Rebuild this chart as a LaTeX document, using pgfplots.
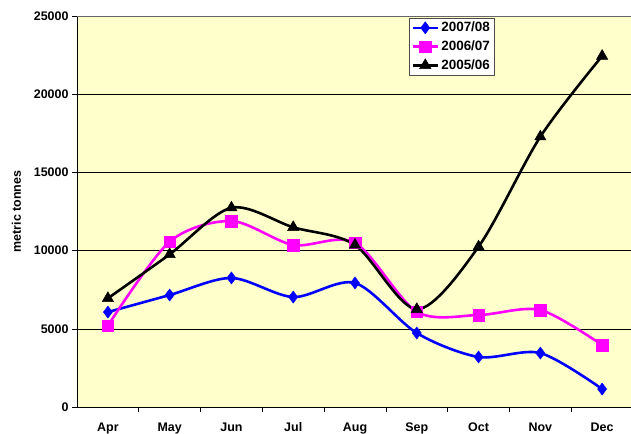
\documentclass[border=0pt]{standalone}
\usepackage{fontspec}
\setmainfont{Liberation Sans}
\usepackage{pgfplots}
\pgfplotsset{compat=1.18}
\usetikzlibrary{calc}
\definecolor{bgy}{HTML}{FFFFCC}
\definecolor{mag}{HTML}{FF00FF}
\definecolor{blu}{HTML}{0000FF}
\begin{document}
\begin{tikzpicture}
\begin{axis}[
  scale only axis,
  width=556bp, height=391bp,
  xmin=-0.5, xmax=8.5,
  ymin=0, ymax=25000,
  axis background/.style={fill=bgy},
  xtick={0,...,8},
  xticklabels={Apr,May,Jun,Jul,Aug,Sep,Oct,Nov,Dec},
  minor xtick={0.5,1.5,...,7.5},
  major x tick style={draw=none},
  minor tick length=5bp,
  ytick={0,5000,...,25000},
  major tick length=5bp,
  tick align=outside,
  x tick label style={yshift=-7bp},
  xtick pos=bottom, ytick pos=left,
  ymajorgrids,
  grid style={black, line width=0.6pt},
  tick style={black, line width=0.6pt},
  axis line style={black, line width=0.8pt},
  axis x line*=bottom, axis y line*=left,
  scaled y ticks=false,
  /pgf/number format/1000 sep={},
  /pgf/number format/assume math mode=true,
  tick label style={font=\fontsize{12.5}{14}\selectfont\bfseries},
  ylabel={metric tonnes},
  ylabel style={font=\fontsize{12.5}{14}\selectfont\bfseries, yshift=6bp},
  legend style={at={(0.597,0.995)}, anchor=north west, draw=black!70, line width=0.6pt,
    font=\fontsize{13.5}{15}\selectfont\bfseries, inner sep=2pt, row sep=3.5bp,
    legend cell align=left, fill=white},
  legend image code/.code={
    \draw[mark repeat=2,mark phase=2] plot coordinates {(0cm,0cm) (0.45cm,0cm) (0.9cm,0cm)};},
  every axis plot/.append style={line width=2.6pt, smooth, tension=0.5},
]
\addplot[blu, mark=diamond*, mark size=6bp, mark options={solid,line width=0.5pt}] coordinates {
 (0,6070) (1,7160) (2,8250) (3,7030) (4,7930) (5,4730) (6,3200) (7,3450) (8,1150)};
\addlegendentry{2007/08}
\addplot[mag, mark=square*, mark size=5.8bp, mark options={solid,line width=0.5pt}] coordinates {
 (0,5200) (1,10570) (2,11890) (3,10360) (4,10500) (5,6090) (6,5880) (7,6200) (8,3960)};
\addlegendentry{2006/07}
\addplot[black, mark=triangle*, mark size=6.5bp, mark options={solid,line width=0.5pt}] coordinates {
 (0,6950) (1,9760) (2,12740) (3,11490) (4,10360) (5,6250) (6,10250) (7,17280) (8,22440)};
\addlegendentry{2005/06}
\draw[black!60, line width=0.8pt] (rel axis cs:0,1) -- (rel axis cs:1,1);
\end{axis}
\pgfresetboundingbox
\path ($(current axis.south west)+(-77bp,-26bp)$) rectangle ($(current axis.north east)+(-2bp,16bp)$);
\end{tikzpicture}
\end{document}
